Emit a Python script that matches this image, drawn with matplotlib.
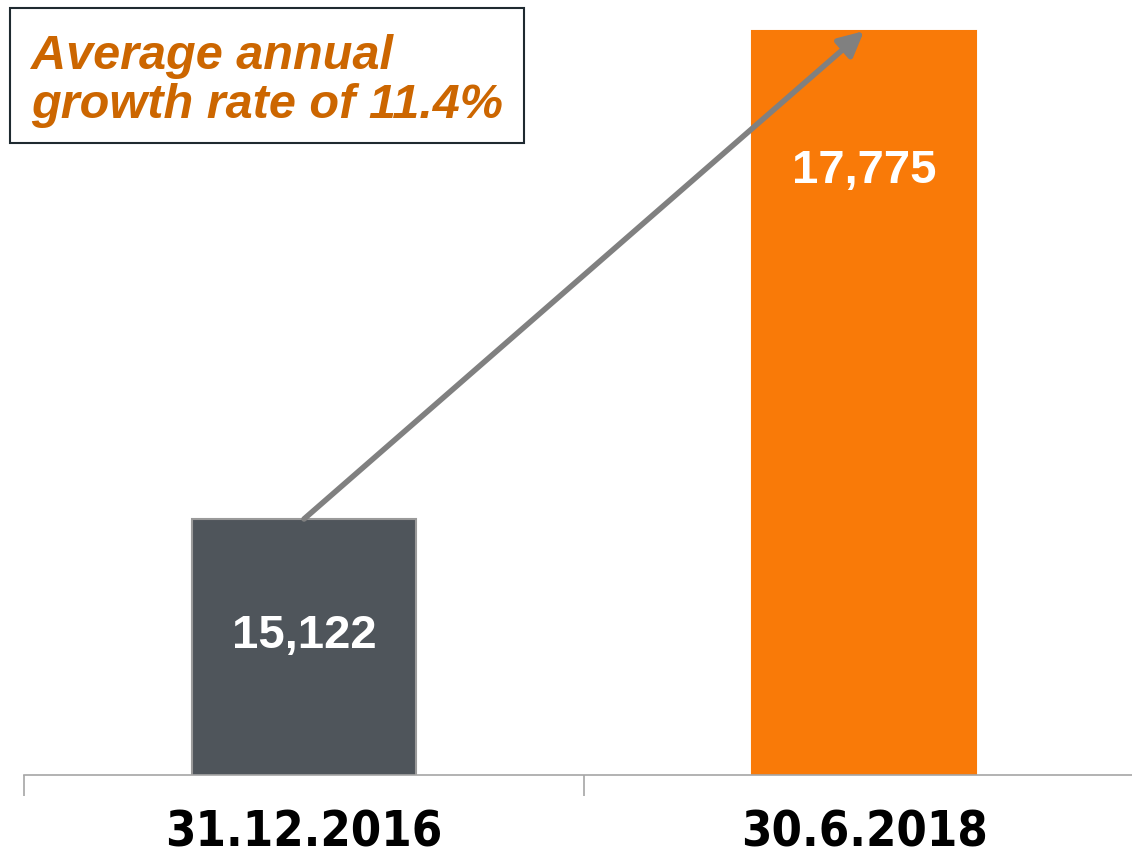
import matplotlib.pyplot as plt
from matplotlib.patches import FancyArrowPatch, Rectangle

dates = ['31.12.2016', '30.6.2018']
values = [15122, 17775]
bar_colors = ['#4f555b', '#f97a08']
edge_colors = ['#9a9a9a', '#f97a08']
note = 'Average annual\ngrowth rate of 11.4%'

W, H = 1132, 859
fig = plt.figure(figsize=(W / 100, H / 100), dpi=100)
ax = fig.add_axes([24 / W, (H - 775) / H, 1120 / W, 775 / H])

x = list(range(len(values)))
ax.bar(x, values, width=0.4, color=bar_colors, edgecolor=edge_colors, linewidth=1.5, zorder=2)
ax.set_xlim(-0.5, 1.5)
ax.set_ylim(13730, 17944)

# value labels, offset below the bar top (in points)
for xi, v, off in zip(x, values, [-84, -101]):
    ax.annotate(f'{v:,}', (xi, v), xytext=(0, off), textcoords='offset points',
                ha='center', va='center', color='white', fontsize=34,
                fontweight='bold', family='Liberation Sans', zorder=3)

# growth arrow between bar tops
arrow = FancyArrowPatch((x[0], values[0]), (x[1], values[1]),
                        arrowstyle='-|>,head_length=15,head_width=7.5',
                        color='#808080', linewidth=4, shrinkA=0, shrinkB=0,
                        zorder=4, capstyle='round')
ax.add_patch(arrow)

for s in ['top', 'right', 'left']:
    ax.spines[s].set_visible(False)
ax.spines['bottom'].set_color('#a6a6a6')
ax.spines['bottom'].set_linewidth(1.2)
ax.set_yticks([])
ax.set_xticks([-0.5, 0.5, 1.5])
ax.set_xticklabels([])
ax.set_xticks(x, minor=True)
ax.set_xticklabels(dates, minor=True, fontsize=35, fontweight='bold',
                   family='DejaVu Sans', fontstretch='condensed')
ax.tick_params(axis='x', which='major', length=15, color='#a6a6a6', width=1.2)
ax.tick_params(axis='x', which='minor', length=0, pad=24)

fig.add_artist(Rectangle((10 / W, 1 - 143 / H), 514 / W, 135 / H,
                         transform=fig.transFigure, facecolor='white',
                         edgecolor='#1f2a30', linewidth=1.5, zorder=5))
fig.text(31 / W, 1 - 118 / H, note, color='#cc6600', fontsize=35,
         fontweight='bold', fontstyle='italic', family='Liberation Sans',
         ha='left', va='baseline', linespacing=1.12, zorder=6)

fig.savefig('out.png', dpi=100)
